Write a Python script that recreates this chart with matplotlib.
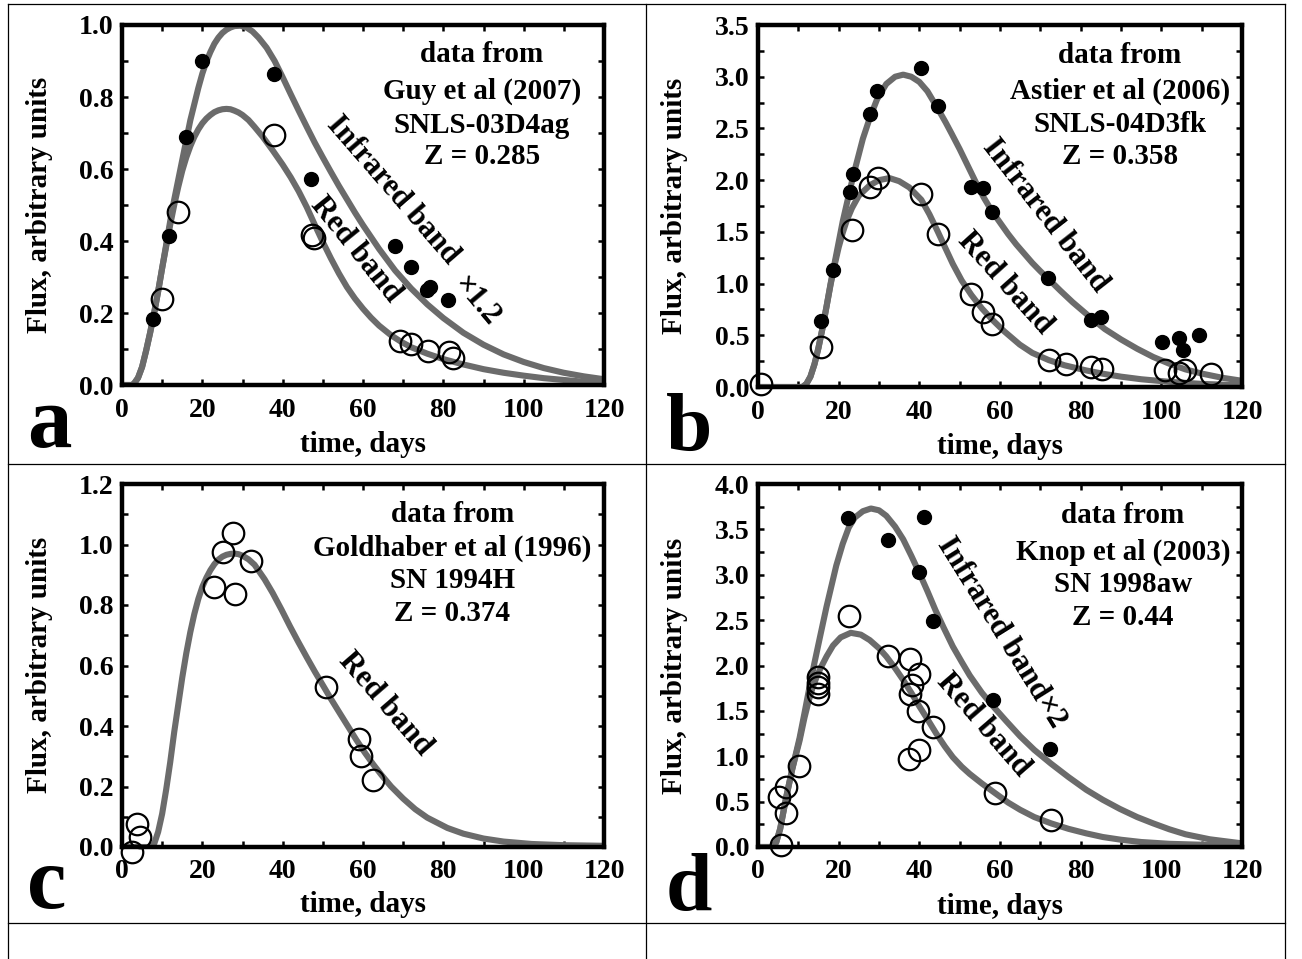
import matplotlib
matplotlib.use("Agg")
import matplotlib.pyplot as plt
from matplotlib.lines import Line2D
from matplotlib.ticker import MultipleLocator, FormatStrFormatter

# ---- data ----
# panel a: Guy et al (2007), SNLS-03D4ag
a_ir_t = [7.7, 11.6, 16.0, 19.9, 37.8, 47.1, 68.0, 71.9, 75.9, 76.6, 81.2]
a_ir_f = [0.183, 0.413, 0.690, 0.900, 0.863, 0.571, 0.386, 0.329, 0.264, 0.273, 0.236]
a_red_t = [10.0, 13.9, 37.8, 47.2, 47.9, 69.3, 72.0, 76.2, 81.3, 82.4]
a_red_f = [0.239, 0.480, 0.694, 0.417, 0.408, 0.122, 0.113, 0.095, 0.092, 0.074]
a_ir_curve_t = [0, 2.5, 3, 4, 5, 6, 7, 8, 9, 10, 11, 12, 13, 14, 15, 16, 17, 18, 19, 20,
                21, 22, 23, 24, 25, 26, 27, 28, 29.5, 31, 32.5, 34, 36, 38, 40, 42, 44, 46,
                48, 50, 52, 54, 56, 58, 60, 64, 68, 72, 76, 80, 85, 90, 95, 100, 105, 110, 115, 120]
a_ir_curve_f = [0, 0, 0.004, 0.02, 0.05, 0.095, 0.145, 0.2, 0.26, 0.325, 0.39, 0.455, 0.515, 0.57,
                0.625, 0.68, 0.735, 0.78, 0.825, 0.865, 0.898, 0.925, 0.948, 0.965, 0.978, 0.987,
                0.993, 0.997, 0.998, 0.993, 0.982, 0.965, 0.937, 0.90, 0.855, 0.808, 0.762, 0.717,
                0.673, 0.632, 0.592, 0.553, 0.516, 0.479, 0.444, 0.378, 0.318, 0.268, 0.224, 0.186,
                0.145, 0.112, 0.085, 0.064, 0.047, 0.034, 0.024, 0.016]
a_red_curve_t = [0, 2.5, 3, 4, 5, 6, 7, 8, 9, 10, 11, 12, 13, 14, 15, 16, 17, 18, 19, 20,
                 21, 22, 23, 24, 25, 26, 27, 28, 29, 30, 31.5, 33, 35, 37.5, 40, 42, 44, 46, 48, 50,
                 52, 54, 56, 58, 60, 62, 64, 67, 69.5, 72, 76, 80, 85, 90, 95, 100, 105, 110, 115, 120]
a_red_curve_f = [0, 0, 0.004, 0.02, 0.05, 0.095, 0.145, 0.2, 0.26, 0.325, 0.385, 0.445, 0.5, 0.55,
                 0.595, 0.632, 0.663, 0.689, 0.71, 0.727, 0.74, 0.75, 0.758, 0.763, 0.766, 0.767,
                 0.766, 0.762, 0.757, 0.75, 0.736, 0.717, 0.69, 0.652, 0.612, 0.577, 0.538, 0.494,
                 0.445, 0.397, 0.352, 0.31, 0.272, 0.24, 0.212, 0.187, 0.165, 0.138, 0.12, 0.105,
                 0.087, 0.072, 0.057, 0.044, 0.034, 0.026, 0.019, 0.014, 0.009, 0.006]

# panel b: Astier et al (2006), SNLS-04D3fk
b_ir_t = [15.7, 18.6, 22.7, 23.6, 27.7, 29.6, 40.5, 44.6, 52.9, 55.8, 58.1, 71.9, 82.5, 85.1,
          100.2, 104.4, 105.4, 109.3]
b_ir_f = [0.635, 1.13, 1.887, 2.055, 2.639, 2.865, 3.081, 2.716, 1.935, 1.926, 1.694, 1.055,
          0.645, 0.677, 0.435, 0.477, 0.355, 0.50]
b_red_t = [0.8, 15.5, 23.3, 27.7, 29.8, 40.5, 44.6, 52.9, 55.8, 58.1, 72.1, 76.4, 82.5, 85.4,
           100.8, 104.5, 105.8, 112.4]
b_red_f = [0.032, 0.387, 1.516, 1.935, 2.023, 1.865, 1.484, 0.897, 0.726, 0.613, 0.265, 0.226,
           0.194, 0.177, 0.161, 0.139, 0.161, 0.129]
b_ir_curve_t = [0, 11, 12, 13, 14, 15, 16, 17, 18, 19, 20, 21, 22, 23, 24, 25, 26, 27.7, 29.5,
                31.8, 34, 36, 38, 40, 42, 44.6, 46.5, 48, 50, 52, 54, 56, 58, 60, 62, 64, 66, 68,
                70, 72, 75, 78, 82.5, 86, 90, 94, 98, 102, 106, 110, 115, 120]
b_ir_curve_f = [0, 0, 0.03, 0.1, 0.22, 0.38, 0.57, 0.78, 1.0, 1.2, 1.4, 1.6, 1.77, 1.94, 2.1,
                2.25, 2.4, 2.6, 2.78, 2.93, 3.0, 3.02, 3.0, 2.95, 2.86, 2.69, 2.56, 2.45, 2.3,
                2.14, 1.98, 1.83, 1.70, 1.59, 1.48, 1.38, 1.29, 1.2, 1.12, 1.045, 0.93, 0.82,
                0.67, 0.56, 0.46, 0.37, 0.29, 0.225, 0.17, 0.13, 0.09, 0.06]
b_red_curve_t = [0, 11, 12, 13, 14, 15, 16, 17, 18, 19, 20, 21, 22, 23.3, 25, 27.7, 30, 32.6,
                 35, 37.5, 40.5, 42.5, 44.6, 46.5, 48.3, 50.5, 52.9, 55.5, 58.1, 61, 64.9, 68,
                 72.1, 76, 81.4, 86, 90, 95, 102, 110, 120]
b_red_curve_f = [0, 0, 0.03, 0.1, 0.22, 0.38, 0.57, 0.78, 0.99, 1.18, 1.35, 1.49, 1.61, 1.73,
                 1.85, 1.95, 2.0, 2.02, 1.99, 1.93, 1.81, 1.67, 1.50, 1.34, 1.19, 1.03, 0.89,
                 0.76, 0.65, 0.54, 0.41, 0.33, 0.26, 0.21, 0.16, 0.125, 0.10, 0.075, 0.05, 0.03,
                 0.016]

# panel c: Goldhaber et al (1996), SN 1994H
c_red_t = [2.6, 3.8, 4.4, 22.9, 25.1, 27.6, 28.2, 32.0, 50.9, 59.0, 59.4, 62.5]
c_red_f = [-0.015, 0.077, 0.033, 0.859, 0.975, 1.038, 0.837, 0.945, 0.530, 0.357, 0.300, 0.222]
c_red_curve_t = [0, 7, 8, 9, 10, 11, 12, 13, 14, 15, 16, 17, 18, 19, 20, 21, 22, 23, 24, 25,
                 26, 27, 28, 29, 30, 31.5, 33, 35.5, 37.5, 39.7, 41.8, 43.8, 46, 48, 50, 52, 54,
                 56.3, 58.3, 60.4, 62.5, 64.6, 67, 70, 73, 76, 81, 85, 90, 95, 102, 110, 120]
c_red_curve_f = [0, 0, 0.01, 0.05, 0.11, 0.19, 0.28, 0.38, 0.47, 0.56, 0.64, 0.71, 0.77, 0.82,
                 0.86, 0.89, 0.915, 0.935, 0.95, 0.96, 0.966, 0.969, 0.97, 0.968, 0.963, 0.951,
                 0.933, 0.885, 0.84, 0.785, 0.73, 0.68, 0.627, 0.58, 0.535, 0.49, 0.447, 0.398,
                 0.355, 0.313, 0.274, 0.238, 0.2, 0.16, 0.125, 0.097, 0.063, 0.044, 0.028, 0.018,
                 0.01, 0.006, 0.004]

# panel d: Knop et al (2003), SN 1998aw
d_ir_t = [22.3, 32.3, 40.0, 41.1, 43.5, 58.2, 72.5]
d_ir_f = [3.62, 3.38, 3.03, 3.64, 2.49, 1.625, 1.08]
d_red_t = [5.8, 5.3, 7.0, 7.0, 10.2, 14.9, 14.9, 14.8, 14.9, 22.5, 32.2, 37.6, 40.0, 38.2,
           37.8, 39.6, 43.4, 39.8, 37.5, 58.8, 72.6]
d_red_f = [0.02, 0.55, 0.66, 0.38, 0.89, 1.87, 1.81, 1.76, 1.69, 2.55, 2.10, 2.07, 1.91, 1.79,
           1.69, 1.50, 1.32, 1.07, 0.97, 0.59, 0.295]
d_ir_curve_t = [0, 3.5, 4.5, 5.5, 7, 8.5, 10.3, 11.5, 12.8, 14, 15.3, 17, 19.4, 21, 22.5, 24,
                26, 28, 30, 31.8, 34, 36, 38, 40, 42, 44, 46, 48.3, 50.5, 52.5, 55.5, 58.3, 61.5,
                65, 68.5, 72.6, 77, 81.4, 85.5, 89.7, 94, 98, 102, 106, 112, 120]
d_ir_curve_f = [0, 0, 0.05, 0.2, 0.55, 0.86, 1.2, 1.47, 1.77, 2.03, 2.3, 2.65, 3.1, 3.34, 3.52,
                3.63, 3.70, 3.73, 3.71, 3.65, 3.53, 3.39, 3.21, 3.02, 2.82, 2.61, 2.42, 2.21,
                2.04, 1.89, 1.70, 1.55, 1.39, 1.22, 1.07, 0.92, 0.77, 0.63, 0.52, 0.42, 0.33,
                0.26, 0.195, 0.14, 0.085, 0.04]
d_red_curve_t = [0, 3.5, 4.5, 5.5, 7, 8.5, 10.3, 11.5, 12.5, 13.5, 14.5, 15.5, 17, 18.6, 20.5,
                 23, 25.5, 27.7, 30, 31.8, 34, 36, 38, 40, 42, 44.2, 46.3, 48.3, 50.5, 52.5, 55.5,
                 58.9, 62, 65, 68.5, 72.7, 77, 81.4, 85.5, 90, 95, 102, 110, 120]
d_red_curve_f = [0, 0, 0.05, 0.2, 0.55, 0.86, 1.17, 1.42, 1.6, 1.75, 1.87, 1.97, 2.1, 2.22,
                 2.31, 2.36, 2.34, 2.28, 2.19, 2.10, 1.97, 1.84, 1.70, 1.55, 1.41, 1.25, 1.11,
                 0.99, 0.885, 0.805, 0.70, 0.59, 0.49, 0.41, 0.33, 0.26, 0.20, 0.15, 0.11, 0.08,
                 0.055, 0.035, 0.025, 0.02]

source_lines = {
    "a": ["data from", "Guy et al (2007)", "SNLS-03D4ag", "Z = 0.285"],
    "b": ["data from", "Astier et al (2006)", "SNLS-04D3fk", "Z = 0.358"],
    "c": ["data from", "Goldhaber et al (1996)", "SN 1994H", "Z = 0.374"],
    "d": ["data from", "Knop et al (2003)", "SN 1998aw", "Z = 0.44"],
}

# ---- drawing ----
plt.rcParams["font.family"] = ["Liberation Serif", "DejaVu Serif"]
plt.rcParams["font.weight"] = "bold"

W, H = 1302, 959
fig = plt.figure(figsize=(W / 100, H / 100), dpi=100)

GRAY = "#6b6b6b"


def px(x, y):
    return x / W, 1 - y / H


def make_axes(l, t, r, b, ymax, ymaj, ymin):
    ax = fig.add_axes([l / W, 1 - b / H, (r - l) / W, (b - t) / H])
    ax.set_xlim(0, 120)
    ax.set_ylim(0, ymax)
    ax.xaxis.set_major_locator(MultipleLocator(20))
    ax.xaxis.set_minor_locator(MultipleLocator(10))
    ax.yaxis.set_major_locator(MultipleLocator(ymaj))
    ax.yaxis.set_minor_locator(MultipleLocator(ymin))
    ax.yaxis.set_major_formatter(FormatStrFormatter("%.1f"))
    ax.tick_params(which="both", direction="in", top=True, right=True,
                   length=4.5, width=1.8, labelsize=20)
    ax.tick_params(axis="x", pad=9)
    ax.tick_params(axis="y", pad=6)
    for s in ax.spines.values():
        s.set_linewidth(3.2)
    return ax


def curve(ax, t, f):
    ax.plot(t, f, color=GRAY, lw=4.4, solid_capstyle="butt", zorder=2)


def dots(ax, t, f):
    ax.plot(t, f, "o", color="black", ms=10, clip_on=False, zorder=4)


def rings(ax, t, f):
    ax.plot(t, f, "o", mfc="none", mec="black", ms=15.5, mew=1.6, clip_on=False, zorder=4)


def source(ax, key, fx, fys):
    for line, fy in zip(source_lines[key], fys):
        ax.text(fx, fy, line, transform=ax.transAxes, ha="center", va="center", fontsize=21)


def labels(cx, ylab_x, ylab_y, xlab_y):
    fig.text(*px(cx, xlab_y), "time, days", ha="center", va="center", fontsize=21)
    fig.text(*px(ylab_x, ylab_y), "Flux, arbitrary units", ha="center", va="center",
             rotation=90, fontsize=21)


# panel a
ax = make_axes(122, 25, 604, 385, 1.0, 0.2, 0.1)
curve(ax, a_ir_curve_t, a_ir_curve_f)
curve(ax, a_red_curve_t, a_red_curve_f)
dots(ax, a_ir_t, a_ir_f)
rings(ax, a_red_t, a_red_f)
source(ax, "a", 0.747, [0.917, 0.817, 0.72, 0.634])
ax.text(67.5, 0.54, "Infrared band", rotation=-49, ha="center", va="center",
        rotation_mode="anchor", fontsize=22)
ax.text(88.2, 0.232, "\u00d71.2", rotation=-50, ha="center", va="center",
        rotation_mode="anchor", fontsize=22)
ax.text(58.3, 0.375, "Red band", rotation=-51, ha="center", va="center",
        rotation_mode="anchor", fontsize=22)
labels(363, 40, 205, 445)
fig.text(*px(27, 447), "a", ha="left", va="baseline", fontsize=64)

# panel b
ax = make_axes(758, 25, 1242, 387, 3.5, 0.5, 0.25)
curve(ax, b_ir_curve_t, b_ir_curve_f)
curve(ax, b_red_curve_t, b_red_curve_f)
dots(ax, b_ir_t, b_ir_f)
rings(ax, b_red_t, b_red_f)
source(ax, "b", 0.748, [0.917, 0.817, 0.724, 0.637])
ax.text(71.1, 1.66, "Infrared band", rotation=-52, ha="center", va="center",
        rotation_mode="anchor", fontsize=22)
ax.text(61.2, 1.0, "Red band", rotation=-48, ha="center", va="center",
        rotation_mode="anchor", fontsize=22)
labels(1000, 674, 206, 447)
fig.text(*px(666, 450), "b", ha="left", va="baseline", fontsize=60)

# panel c
ax = make_axes(122, 484, 604, 847, 1.2, 0.2, 0.1)
curve(ax, c_red_curve_t, c_red_curve_f)
rings(ax, c_red_t, c_red_f)
source(ax, "c", 0.685, [0.917, 0.824, 0.733, 0.642])
ax.text(65.6, 0.472, "Red band", rotation=-49, ha="center", va="center",
        rotation_mode="anchor", fontsize=22)
labels(363, 40, 665, 905)
fig.text(*px(27, 908), "c", ha="left", va="baseline", fontsize=64)

# panel d
ax = make_axes(758, 484, 1242, 847, 4.0, 0.5, 0.25)
curve(ax, d_ir_curve_t, d_ir_curve_f)
curve(ax, d_red_curve_t, d_red_curve_f)
dots(ax, d_ir_t, d_ir_f)
rings(ax, d_red_t, d_red_f)
source(ax, "d", 0.754, [0.912, 0.811, 0.724, 0.632])
ax.text(60.3, 2.36, "Infrared band\u00d72", rotation=-58, ha="center", va="center",
        rotation_mode="anchor", fontsize=22)
ax.text(55.8, 1.35, "Red band", rotation=-49, ha="center", va="center",
        rotation_mode="anchor", fontsize=22)
labels(1000, 674, 666, 907)
fig.text(*px(666, 910), "d", ha="left", va="baseline", fontsize=60)

# thin table grid around the panels
for x in (8, 646, 1285):
    fig.add_artist(Line2D([x / W, x / W], [1 - 4 / H, 0], color="black", lw=0.9))
for y in (4, 464, 923):
    fig.add_artist(Line2D([8 / W, 1285 / W], [1 - y / H, 1 - y / H], color="black", lw=0.9))

fig.savefig("out.png", dpi=100)
